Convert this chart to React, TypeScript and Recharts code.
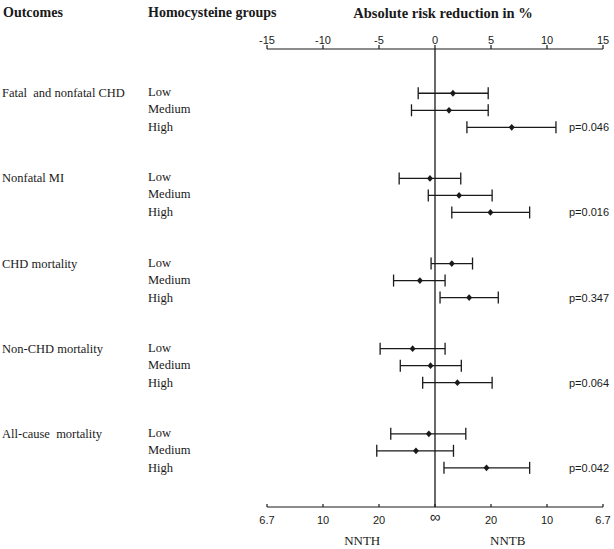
import { ScatterChart, Scatter, XAxis, YAxis, ErrorBar, ReferenceLine } from "recharts";

const outcomes = [
  "Fatal  and nonfatal CHD",
  "Nonfatal MI",
  "CHD mortality",
  "Non-CHD mortality",
  "All-cause  mortality",
];
const groups = ["Low", "Medium", "High"];

// absolute risk reduction (%) per outcome x group, in outcome order
const arr = [1.6, 1.25, 6.85, -0.45, 2.15, 4.95, 1.5, -1.35, 3.05, -2.0, -0.4, 2.0, -0.55, -1.7, 4.6];
const lower = [-1.5, -2.1, 2.85, -3.2, -0.6, 1.5, -0.35, -3.7, 0.45, -4.9, -3.1, -1.1, -3.95, -5.2, 0.8];
const upper = [4.75, 4.75, 10.8, 2.3, 5.1, 8.45, 3.35, 0.9, 5.65, 0.9, 2.35, 5.1, 2.75, 1.65, 8.45];
const pValues = ["p=0.046", "p=0.016", "p=0.347", "p=0.064", "p=0.042"];

const arrTicks = [-15, -10, -5, 0, 5, 10, 15];
const nntLabels = ["6.7", "10", "20", "\u221e", "20", "10", "6.7"];
const nntSides = ["NNTH", "NNTB"];

const SERIF = "'Liberation Serif', 'Times New Roman', serif";
const SANS = "'Liberation Sans', Arial, sans-serif";
const INK = "#1a1a1a";

// each outcome takes 5 slots: 3 groups + 2 blank
const rows = arr.map((v, i) => {
  const o = Math.floor(i / 3);
  const r = i % 3;
  return { o, r, k: o * 5 + r, x: v, err: [v - lower[i], upper[i] - v] };
});
const rowByK = new Map(rows.map((d) => [d.k, d]));

const labelShift = [-1, -1, 0];

const RowTick = (props: any) => {
  const { y, payload } = props;
  const row = rowByK.get(payload.value);
  if (!row) return null;
  return (
    <g>
      {row.r === 0 && (
        <text x={2} y={y} dominantBaseline="central" fontFamily={SERIF} fontSize={12.5} fill={INK} style={{ whiteSpace: "pre" }}>
          {outcomes[row.o]}
        </text>
      )}
      <text x={148} y={y + labelShift[row.r]} dominantBaseline="central" fontFamily={SERIF} fontSize={12.5} fill={INK}>
        {groups[row.r]}
      </text>
      {row.r === 2 && (
        <text x={569} y={y} dominantBaseline="central" fontFamily={SANS} fontSize={11} fill={INK}>
          {pValues[row.o]}
        </text>
      )}
    </g>
  );
};

// NNT tick labels; the infinity sign is drawn a little larger
const NntTick = (props: any) => {
  const { x, y, payload } = props;
  const label = nntLabels[arrTicks.indexOf(payload.value)];
  const inf = payload.value === 0;
  return (
    <text x={x} y={y} dy={inf ? "0.42em" : "0.71em"} textAnchor="middle" fontFamily={SANS} fontSize={inf ? 15 : 11} fill={INK}>
      {label}
    </text>
  );
};

const Diamond = (props: any) => {
  const { cx, cy } = props;
  return (
    <polygon
      points={`${cx},${cy - 3.4} ${cx + 3},${cy} ${cx},${cy + 3.4} ${cx - 3},${cy}`}
      fill={INK}
    />
  );
};

// the bottom axes need a series bound to them to get ticks
const Nothing = () => <g />;

const header = { position: "absolute" as const, top: 5, fontFamily: SERIF, fontWeight: 700, fontSize: 14, lineHeight: "16px", color: INK, whiteSpace: "nowrap" as const };

export default function App() {
  return (
    <div style={{ position: "absolute", left: 0, top: 0, width: 614, height: 549, background: "#fff" }}>
      <div style={{ ...header, left: 3 }}>Outcomes</div>
      <div style={{ ...header, left: 148 }}>Homocysteine groups</div>
      <div style={{ ...header, left: 443, transform: "translateX(-50%)", fontSize: 14.5 }}>Absolute risk reduction in %</div>
      <ScatterChart width={614} height={549} margin={{ top: 0, right: 11, bottom: 0, left: 0 }}>
        <XAxis
          xAxisId="top"
          orientation="top"
          type="number"
          dataKey="x"
          domain={[-15, 15]}
          ticks={arrTicks}
          height={49}
          stroke={INK}
          strokeWidth={1.2}
          tickSize={4}
          tickMargin={1}
          tick={{ fontFamily: SANS, fontSize: 11, fill: INK }}
        />
        <XAxis
          xAxisId="bot"
          orientation="bottom"
          type="number"
          dataKey="x"
          domain={[-15, 15]}
          ticks={arrTicks}
          interval={0}
          height={25}
          stroke={INK}
          strokeWidth={1.2}
          tickSize={-3}
          tickMargin={12}
          tick={<NntTick />}
        />
        <XAxis
          xAxisId="nnt"
          orientation="bottom"
          type="number"
          dataKey="x"
          domain={[-15, 15]}
          ticks={[-6.5, 6.5]}
          interval={0}
          tickFormatter={(v: number) => (v < 0 ? nntSides[0] : nntSides[1])}
          height={17}
          axisLine={false}
          tickLine={false}
          tickSize={0}
          tickMargin={4}
          tick={{ fontFamily: SERIF, fontSize: 13, fill: INK }}
        />
        <YAxis
          type="number"
          dataKey="k"
          domain={[-2.6, 24.3]}
          reversed
          allowDataOverflow
          ticks={rows.map((d) => d.k)}
          interval={0}
          width={267}
          axisLine={false}
          tickLine={false}
          tick={<RowTick />}
        />
        <ReferenceLine xAxisId="top" x={0} stroke={INK} strokeWidth={1.3} />
        <Scatter xAxisId="bot" data={rows} shape={<Nothing />} isAnimationActive={false} />
        <Scatter xAxisId="nnt" data={rows} shape={<Nothing />} isAnimationActive={false} />
        <Scatter xAxisId="top" data={rows} shape={<Diamond />} isAnimationActive={false}>
          <ErrorBar dataKey="err" direction="x" width={6} stroke={INK} strokeWidth={1.3} />
        </Scatter>
      </ScatterChart>
    </div>
  );
}
